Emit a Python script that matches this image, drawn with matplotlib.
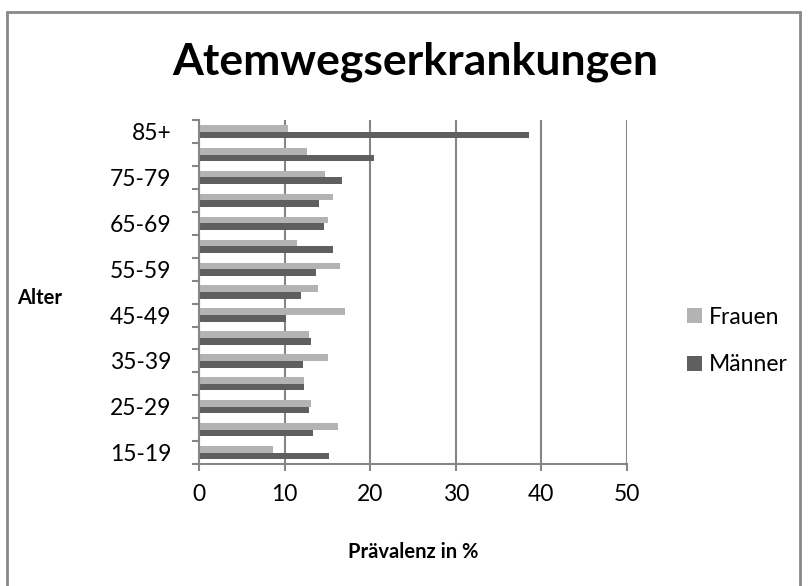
import numpy as np
import matplotlib
matplotlib.use("Agg")
import matplotlib.pyplot as plt
from matplotlib.patches import Rectangle
from matplotlib.ticker import FixedLocator

plt.rcParams['font.family'] = ['Lato', 'DejaVu Sans']

# Altersgruppen von unten nach oben
alter = ['15-19', '20-24', '25-29', '30-34', '35-39', '40-44', '45-49',
         '50-54', '55-59', '60-64', '65-69', '70-74', '75-79', '80-84', '85+']
frauen = [8.7, 16.2, 13.1, 12.3, 15.1, 12.8, 17.1,
          13.9, 16.5, 11.5, 15.1, 15.7, 14.7, 12.6, 10.4]
maenner = [15.2, 13.3, 12.8, 12.3, 12.1, 13.1, 10.2,
           11.9, 13.7, 15.7, 14.6, 14.0, 16.7, 20.5, 38.5]
x_ticks = [0, 10, 20, 30, 40, 50]

fig = plt.figure(figsize=(8.08, 5.86), dpi=100)
ax = fig.add_axes([0.2463, 0.208, 0.5297, 0.587])

y = np.arange(len(alter))
h = 0.29
ax.barh(y + h / 2, frauen, height=h, color='#b3b3b3', label='Frauen', zorder=3)
ax.barh(y - h / 2, maenner, height=h, color='#5f5f5f', label='Männer', zorder=3)

ax.set_xlim(0, 50)
ax.set_ylim(-0.5, len(alter) - 0.5)
ax.set_xticks(x_ticks)
ax.set_xticklabels([str(t) for t in x_ticks], fontsize=16.5)

# Beschriftung nur jede zweite Gruppe, Striche an den Grenzen
ax.yaxis.set_major_locator(FixedLocator(y[::2]))
ax.set_yticklabels(alter[::2], fontsize=16.5)
ax.yaxis.set_minor_locator(FixedLocator(np.arange(-0.5, len(alter), 1.0)))
ax.tick_params(axis='y', which='major', length=0, pad=20)
ax.tick_params(axis='y', which='minor', length=5, width=1.5, color='#868686')
ax.tick_params(axis='x', which='major', length=5, width=1.5, color='#868686', pad=9)

ax.grid(axis='x', color='#868686', linewidth=1.5, zorder=0)
for s in ['top', 'right']:
    ax.spines[s].set_visible(False)
for s in ['left', 'bottom']:
    ax.spines[s].set_color('#868686')
    ax.spines[s].set_linewidth(1.5)
    ax.spines[s].set_zorder(4)

ax.set_xlabel('Prävalenz in %', fontsize=14.5, fontweight='bold', labelpad=27)
fig.text(17 / 808, 1 - 298 / 586, 'Alter', fontsize=14.5, fontweight='bold',
         ha='left', va='center')
fig.text(0.5137, 1 - 62 / 586, 'Atemwegserkrankungen', fontsize=32,
         fontweight='bold', ha='center', va='center')

handles, labels = ax.get_legend_handles_labels()
fig.legend(handles, labels, loc='center left', bbox_to_anchor=(0.825, 0.418),
           frameon=False, fontsize=16.5, handlelength=0.65, handleheight=0.65,
           handletextpad=0.3, labelspacing=1.15)

fig.patches.append(Rectangle((7 / 808, -0.02), 793 / 808, 1.02 - 12 / 586,
                             transform=fig.transFigure, fill=False,
                             edgecolor='#888888', linewidth=2))

fig.savefig('out.png', dpi=100)
